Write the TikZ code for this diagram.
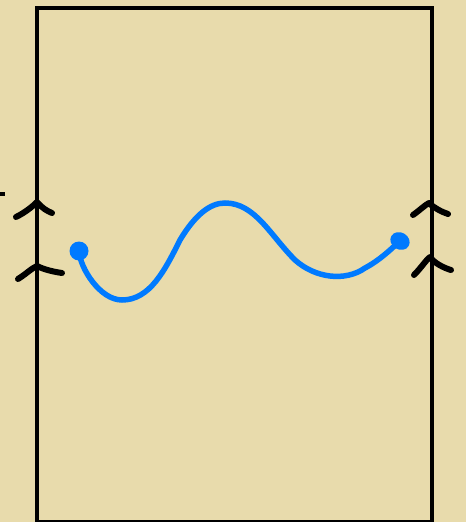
\documentclass[tikz,border=0pt]{standalone}
\begin{document}
\begin{tikzpicture}[x=1pt,y=-1pt,
  frame/.style={line width=3.5pt},
  chev/.style={line width=6pt,line cap=round,line join=round},
  wave/.style={draw=wblue,line width=5.5pt,line cap=round},
  dotend/.style={fill=wblue}]
\definecolor{parch}{RGB}{232,219,172}
\definecolor{wblue}{RGB}{0,122,255}
\useasboundingbox (0,0) rectangle (466,522);
\fill[parch] (0,0) rectangle (466,522);
% frame
\draw[frame] (37,8) rectangle (432,522);
% small stroke at left edge
\draw[line width=4pt] (-2,194) -- (5,194);
% left chevrons
\draw[chev] (16,217) .. controls (26,212) and (33,206) .. (37,202) .. controls (42,208) and (47,211) .. (52,213);
\draw[chev] (18,279) .. controls (26,274) and (32,268) .. (37,266) .. controls (45,270) and (55,272) .. (62,273);
% right chevrons
\draw[chev] (413,215) .. controls (420,210) and (425,205) .. (429,203) .. controls (434,208) and (442,212) .. (448,214);
\draw[chev] (414,275) .. controls (421,268) and (426,260) .. (430,257) .. controls (434,263) and (444,268) .. (451,270);
% wave
\coordinate (s) at (79,251);
\coordinate (e) at (400,241);
\draw[wave] (s) .. controls (80,268) and (100,300) .. (122,300)
  .. controls (150,300) and (165,270) .. (180,240)
  .. controls (195,215) and (210,203) .. (225,203)
  .. controls (255,203) and (270,235) .. (295,260)
  .. controls (315,278) and (345,282) .. (365,268)
  .. controls (380,260) and (390,250) .. (e);
\fill[dotend] (s) circle (9.5);
\fill[dotend,rotate around={-30:(e)}] (e) ellipse (10 and 8.5);
\end{tikzpicture}
\end{document}
